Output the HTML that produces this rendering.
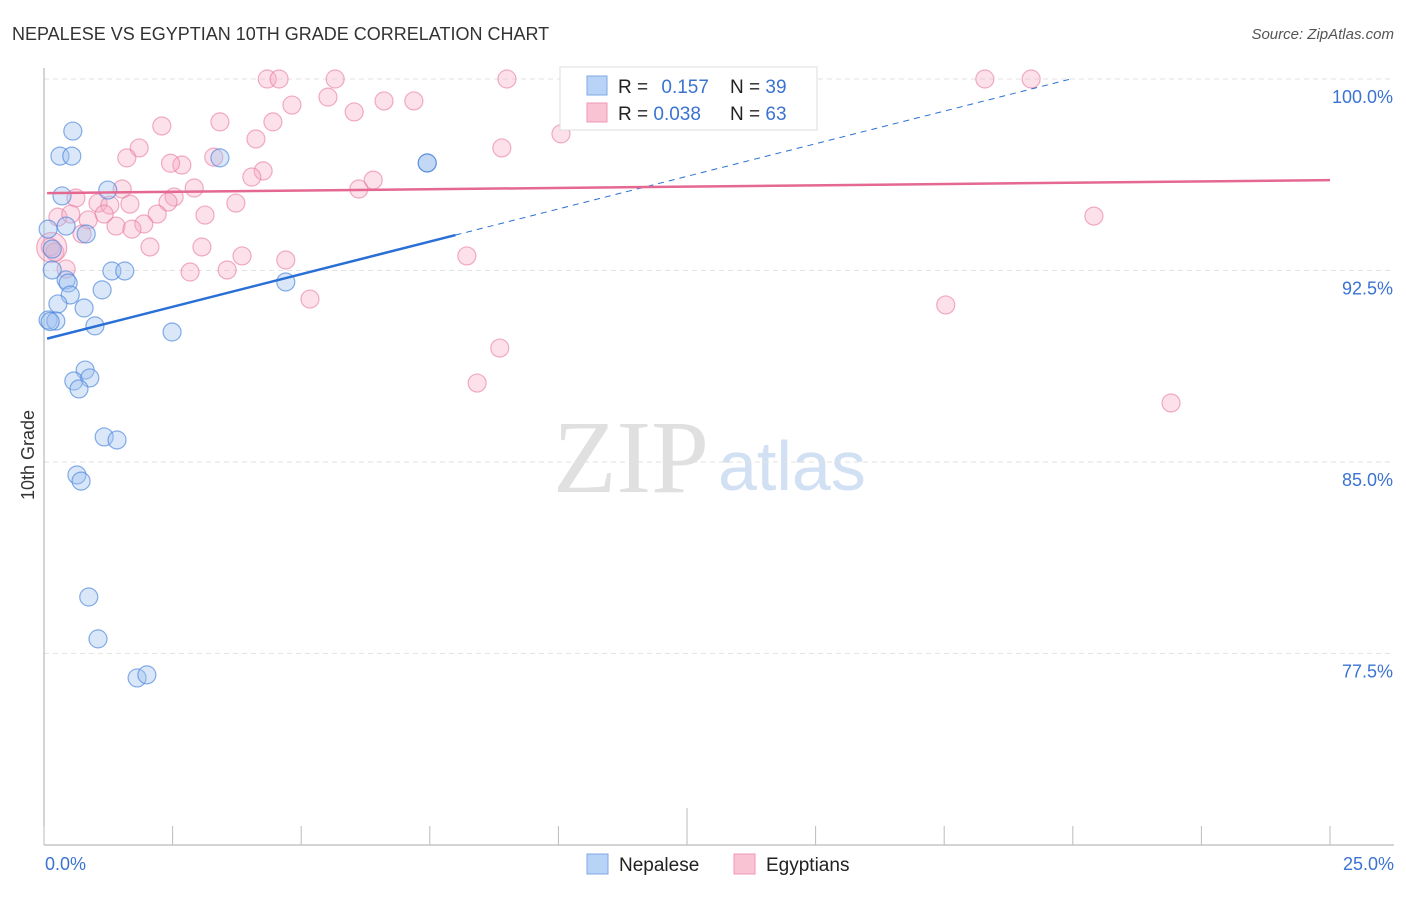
<!DOCTYPE html>
<html><head><meta charset="utf-8">
<style>
body{margin:0;background:#fff;font-family:"Liberation Sans",sans-serif;}
svg text{font-family:"Liberation Sans",sans-serif;}
</style></head>
<body>
<svg id="chart" width="1406" height="892" xmlns="http://www.w3.org/2000/svg">
<text x="12" y="40" font-size="18" fill="#333">NEPALESE VS EGYPTIAN 10TH GRADE CORRELATION CHART</text>
<text x="1394" y="39" font-size="15" fill="#555" text-anchor="end" font-style="italic">Source: ZipAtlas.com</text>
<text x="553" y="492" font-size="104" fill="#e0e0e0" style="font-family:'Liberation Serif',serif">ZIP</text>
<text x="718" y="490" font-size="70" fill="#d2e0f4">atlas</text>
<text transform="translate(34,455) rotate(-90)" font-size="18" fill="#333" text-anchor="middle">10th Grade</text>
<g id="grid"></g><g id="axes"></g><g id="marks"></g><g id="lines"></g>
<g>
<rect x="560" y="67" width="257" height="63" fill="#fff" stroke="#ddd"/>
<rect x="587" y="76" width="20" height="19" fill="#b8d3f5" stroke="#7eaae6"/>
<rect x="587" y="103" width="20" height="19" fill="#f9c3d3" stroke="#ee99b3"/>
<text x="618" y="93" font-size="19" fill="#222">R = <tspan fill="#3b73d1" dx="8">0.157</tspan></text>
<text x="730" y="93" font-size="19" fill="#222">N = <tspan fill="#3b73d1">39</tspan></text>
<text x="618" y="120" font-size="19" fill="#222">R = <tspan fill="#3b73d1">0.038</tspan></text>
<text x="730" y="120" font-size="19" fill="#222">N = <tspan fill="#3b73d1">63</tspan></text>
</g>
<g>
<rect x="587" y="854" width="21" height="20" fill="#b8d3f5" stroke="#7eaae6"/>
<text x="619" y="871" font-size="19" fill="#222">Nepalese</text>
<rect x="734" y="854" width="21" height="20" fill="#f9c3d3" stroke="#ee99b3"/>
<text x="766" y="871" font-size="19" fill="#222">Egyptians</text>
</g>
</svg>
<script>
const nepX=[0.56,0.31,0.54,0.35,1.24,3.42,7.45,0.43,0.82,0.08,0.16,0.16,1.32,1.57,0.43,0.47,0.51,1.13,0.27,0.78,4.70,0.08,0.23,0.99,2.49,0.80,0.58,0.89,0.68,1.17,1.42,0.64,0.72,0.87,1.05,1.81,2.00,7.45,0.12];
const nepY=[97.96,96.98,96.98,95.42,95.65,96.91,96.71,94.24,93.93,94.12,93.34,92.52,92.48,92.48,92.13,92.01,91.54,91.74,91.19,91.03,92.05,90.56,90.52,90.33,90.09,88.60,88.17,88.29,87.86,85.98,85.86,84.49,84.25,79.71,78.07,76.54,76.66,96.71,90.5];
const egyX=[4.34,4.57,5.66,9.00,18.29,19.19,5.52,6.61,7.19,4.82,6.03,2.29,3.42,4.45,10.05,4.12,1.85,8.90,1.61,2.68,3.30,4.26,4.04,6.40,2.92,1.52,6.12,2.53,0.62,2.41,3.73,1.05,1.28,1.67,0.27,0.52,0.86,1.17,2.20,3.13,20.41,1.94,1.40,1.71,0.74,2.06,3.07,3.85,0.12,0.21,8.22,4.70,3.56,2.84,0.43,5.17,17.53,8.86,8.42,21.91,10.48,2.46,0.15];
const egyY=[100,100,100,100,100,100,99.29,99.14,99.14,98.98,98.71,98.16,98.32,98.32,97.85,97.65,97.30,97.30,96.91,96.63,96.94,96.40,96.16,96.04,95.73,95.69,95.69,95.38,95.34,95.18,95.14,95.14,95.06,95.10,94.59,94.71,94.48,94.71,94.71,94.67,94.63,94.32,94.24,94.12,93.93,93.42,93.42,93.07,93.42,93.22,93.07,92.91,92.52,92.44,92.56,91.38,91.15,89.46,88.09,87.31,98.47,96.7,93.4];
const xTicks=[0,2.5,5,7.5,10,12.5,15,17.5,20,22.5,25];
const yTicks=[100,92.5,85,77.5];
const yTickLabels=["100.0%","92.5%","85.0%","77.5%"];
const xLabels=["0.0%","25.0%"];
const nepTrend=[89.8,0.511]; const nepSolidEnd=8.0;
const egyTrend=[95.53,0.0204];
const NS="http://www.w3.org/2000/svg";
const sx=v=>44+v*51.44, sy=v=>79+(100-v)*25.53;
function mk(tag,attrs,parent){const e=document.createElementNS(NS,tag);for(const k in attrs)e.setAttribute(k,attrs[k]);document.getElementById(parent).appendChild(e);return e;}
yTicks.forEach((t,i)=>{
 const g=mk('line',{x1:44,x2:1394,y1:sy(t),y2:sy(t),stroke:'#e2e2e2','stroke-dasharray':'5,4'},'grid');
 
 
 const l=mk('text',{x:1393,y:sy(t)+24,'font-size':18,fill:'#3b73d1','text-anchor':'end'},'axes');
 l.textContent=yTickLabels[i];
 
 
});
const ya=mk('line',{x1:44,x2:44,y1:68,y2:845,stroke:'#aaa'},'axes');


const xa=mk('line',{x1:44,x2:1394,y1:845,y2:845,stroke:'#aaa'},'axes');


xTicks.forEach((t,i)=>{
 const tk=mk('line',{x1:sx(t),x2:sx(t),y1:(i==5?808:826),y2:845,stroke:'#bbb'},'axes');
 
 
});
const xl0=mk('text',{x:45,y:870,'font-size':18,fill:'#3b73d1'},'axes');xl0.textContent=xLabels[0];


const xl1=mk('text',{x:1394,y:870,'font-size':18,fill:'#3b73d1','text-anchor':'end'},'axes');xl1.textContent=xLabels[1];


egyX.forEach((x,i)=>{
 const c=mk('circle',{cx:sx(x),cy:sy(egyY[i]),r:(i==62?15:9),fill:'rgba(246,170,195,0.35)',stroke:'rgba(232,120,160,0.6)','stroke-width':1.2},'marks');
 
 
});
nepX.forEach((x,i)=>{
 const c=mk('circle',{cx:sx(x),cy:sy(nepY[i]),r:9,fill:'rgba(160,195,240,0.4)',stroke:'rgba(70,130,220,0.65)','stroke-width':1.2},'marks');
 
 
});
const nEndDash=(100-nepTrend[0])/nepTrend[1];
const l1=mk('line',{x1:sx(0.06),y1:sy(nepTrend[0]+nepTrend[1]*0.06),x2:sx(nepSolidEnd),y2:sy(nepTrend[0]+nepTrend[1]*nepSolidEnd),stroke:'#2a6fd6','stroke-width':2.5},'lines');


const l2=mk('line',{x1:sx(nepSolidEnd),y1:sy(nepTrend[0]+nepTrend[1]*nepSolidEnd),x2:sx(nEndDash),y2:sy(100),stroke:'#2a6fd6','stroke-width':1,'stroke-dasharray':'6,5'},'lines');


const l3=mk('line',{x1:sx(0.06),y1:sy(egyTrend[0]),x2:sx(25),y2:sy(egyTrend[0]+egyTrend[1]*25),stroke:'#e4688f','stroke-width':2.5},'lines');


</script>
</body></html>
